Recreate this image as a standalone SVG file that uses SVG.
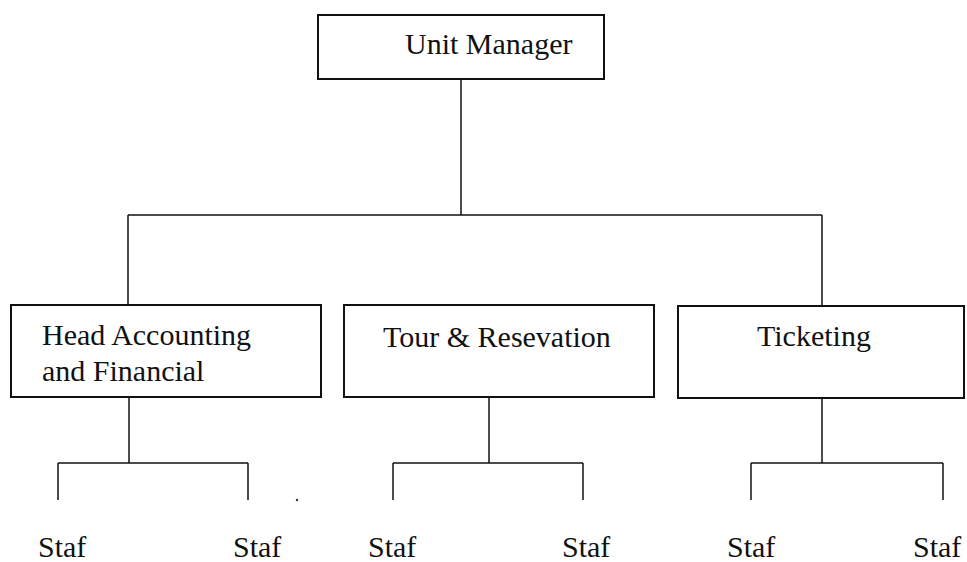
<svg xmlns="http://www.w3.org/2000/svg" width="967" height="562" viewBox="0 0 967 562">
<style>
  .box { fill: #ffffff; stroke: #111111; stroke-width: 2; }
  .lbl { font-family: "Liberation Serif", "Times New Roman", serif; font-size: 30px; fill: #111111; }
  .conn line { stroke: #111111; stroke-width: 1.5; }
</style>
<rect width="967" height="562" fill="#ffffff"/>
<g id="connectors" class="conn">
  <line x1="461" y1="79" x2="461" y2="215"/>
  <line x1="128" y1="215" x2="822" y2="215"/>
  <line x1="128" y1="215" x2="128" y2="305"/>
  <line x1="822" y1="215" x2="822" y2="306"/>
  <line x1="129" y1="397" x2="129" y2="463"/>
  <line x1="58" y1="463" x2="248" y2="463"/>
  <line x1="58" y1="463" x2="58" y2="500"/>
  <line x1="248" y1="463" x2="248" y2="500"/>
  <line x1="489" y1="397" x2="489" y2="463"/>
  <line x1="393" y1="463" x2="583" y2="463"/>
  <line x1="393" y1="463" x2="393" y2="500"/>
  <line x1="583" y1="463" x2="583" y2="500"/>
  <line x1="822" y1="398" x2="822" y2="463"/>
  <line x1="751" y1="463" x2="943" y2="463"/>
  <line x1="751" y1="463" x2="751" y2="500"/>
  <line x1="943" y1="463" x2="943" y2="500"/>
</g>
<circle cx="297" cy="500" r="1.2" fill="#333333"/>
<g id="unit-manager">
  <rect class="box" x="318" y="15" width="286" height="64"/>
  <text class="lbl" x="405" y="54">Unit Manager</text>
</g>
<g id="head-accounting">
  <rect class="box" x="11" y="305" width="310" height="92"/>
  <text class="lbl" x="42" y="345">Head Accounting</text>
  <text class="lbl" x="42" y="381">and Financial</text>
</g>
<g id="tour-reservation">
  <rect class="box" x="344" y="305" width="310" height="92"/>
  <text class="lbl" x="383" y="347">Tour &amp; Resevation</text>
</g>
<g id="ticketing">
  <rect class="box" x="678" y="306" width="286" height="92"/>
  <text class="lbl" x="757" y="346">Ticketing</text>
</g>
<g id="staff">
  <text class="lbl" x="38" y="557">Staf</text>
  <text class="lbl" x="233" y="557">Staf</text>
  <text class="lbl" x="368" y="557">Staf</text>
  <text class="lbl" x="562" y="557">Staf</text>
  <text class="lbl" x="727" y="557">Staf</text>
  <text class="lbl" x="913" y="557">Staf</text>
</g>
</svg>
